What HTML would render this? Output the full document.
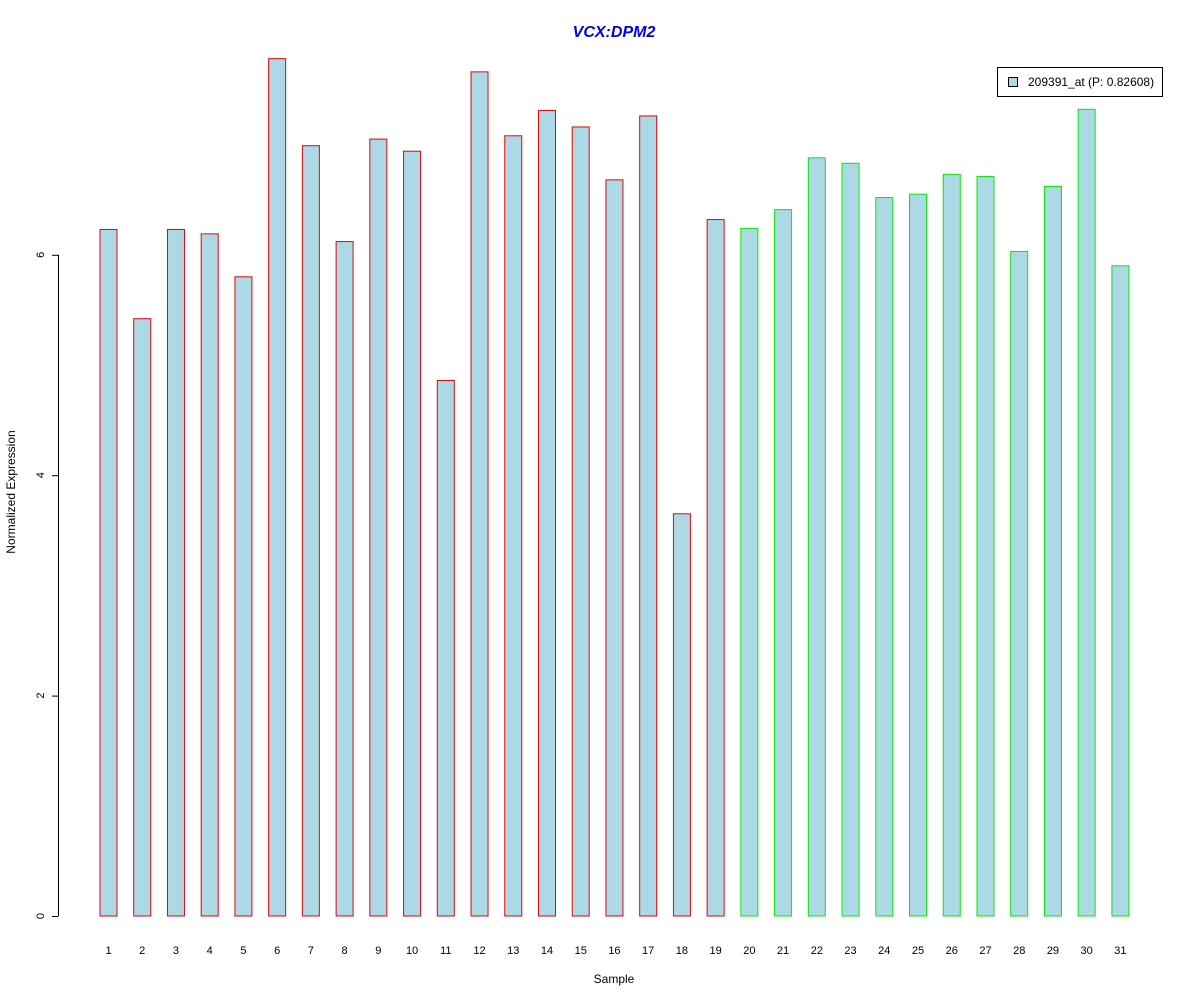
<!DOCTYPE html>
<html><head><meta charset="utf-8"><style>
body{margin:0;background:#fff}
svg{display:block;font-family:"Liberation Sans",Arial,sans-serif}
</style></head><body>
<svg id="chart" width="1200" height="1000" viewBox="0 0 1200 1000">
<rect width="1200" height="1000" fill="#fff"/>
<text x="614" y="37" text-anchor="middle" font-size="16" font-weight="bold" font-style="italic" fill="#0000ee">VCX:DPM2</text>
<text x="614" y="983" text-anchor="middle" font-size="12">Sample</text>
<text transform="translate(15,492) rotate(-90)" text-anchor="middle" font-size="12">Normalized Expression</text>
<g id="yaxis"></g>
<g id="bars"></g>
<g id="xlabels"></g>
<g>
<rect x="997.5" y="67.5" width="165" height="29" fill="#fff" stroke="#000"/>
<rect x="1008.5" y="77.5" width="9" height="9" fill="#add8e6" stroke="#000"/>
<text x="1028" y="86" font-size="12">209391_at (P: 0.82608)</text>
</g>
</svg>
<script>
const categories=["1","2","3","4","5","6","7","8","9","10","11","12","13","14","15","16","17","18","19","20","21","22","23","24","25","26","27","28","29","30","31"];
const values=[6.23,5.42,6.23,6.19,5.80,7.78,6.99,6.12,7.05,6.94,4.86,7.66,7.08,7.31,7.16,6.68,7.26,3.65,6.32,6.24,6.41,6.88,6.83,6.52,6.55,6.73,6.71,6.03,6.62,7.32,5.90];
const groups=["a","a","a","a","a","a","a","a","a","a","a","a","a","a","a","a","a","a","a","b","b","b","b","b","b","b","b","b","b","b","b"];
const yTicks=[0,2,4,6];
const NS="http://www.w3.org/2000/svg";
const y=v=>916-v*110.2;
const xc=i=>108.5+i*33.73;
const bars=document.getElementById('bars'),xl=document.getElementById('xlabels'),ya=document.getElementById('yaxis');
function mk(t,a){const e=document.createElementNS(NS,t);for(const k in a)e.setAttribute(k,a[k]);return e;}
const axl=mk('line',{x1:58.5,x2:58.5,y1:y(0),y2:y(6),stroke:'#000'});


ya.appendChild(axl);
yTicks.forEach(t=>{
 const l=mk('line',{x1:52,x2:58.5,y1:y(t)+0.5,y2:y(t)+0.5,stroke:'#000'});
 
 
 ya.appendChild(l);
 const tx=mk('text',{transform:`translate(44,${y(t)}) rotate(-90)`,'text-anchor':'middle','font-size':11});
 
 
 tx.textContent=t;ya.appendChild(tx);
});
values.forEach((v,i)=>{
 const r=mk('rect',{x:xc(i)-8.5,y:y(v),width:17,height:y(0)-y(v),fill:'#add8e6',stroke:groups[i]==='a'?'#ee0000':'#00ee00','stroke-width':1});
 
 
 bars.appendChild(r);
 const t=mk('text',{x:xc(i),y:954,'text-anchor':'middle','font-size':11});
 
 
 t.textContent=categories[i];xl.appendChild(t);
});
</script>
</body></html>
